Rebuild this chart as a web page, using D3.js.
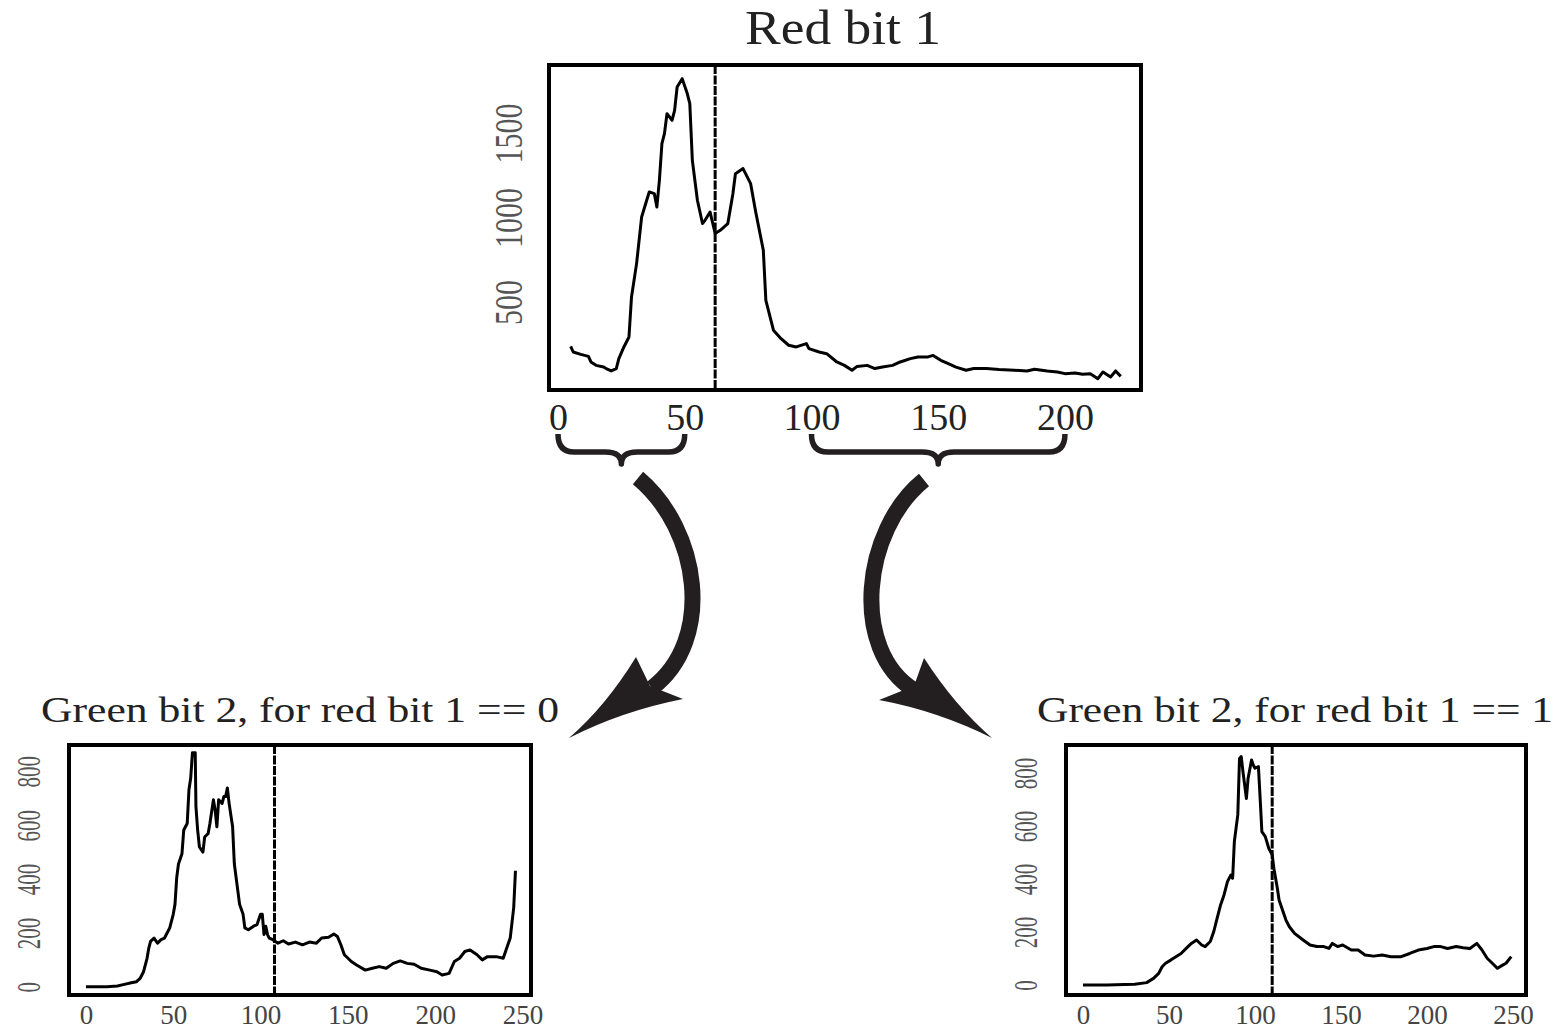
<!DOCTYPE html>
<html>
<head>
<meta charset="utf-8">
<script src="https://cdn.jsdelivr.net/npm/d3@7/dist/d3.min.js"></script>
<style>
    body { margin: 0; background: #fff; }
    text { font-family: "Liberation Serif", "Times New Roman", serif; }
</style>
</head>
<body>
<svg id="chart" width="1558" height="1031"></svg>
<script>
// Red bit 1 histogram
const redBins = [5, 6, 9, 12, 13, 15, 18, 19, 21, 23, 24, 26, 28, 29, 31, 33, 35, 36, 38, 39, 40, 41, 42, 43, 45, 46, 47, 49, 51, 52, 53, 55, 57, 58, 60, 62, 64, 67, 69, 70, 73, 76, 78, 81, 82, 85, 88, 91, 94, 98, 99, 103, 106, 110, 113, 116, 118, 122, 125, 128, 132, 135, 139, 142, 146, 148, 151, 154, 157, 161, 164, 169, 174, 180, 185, 188, 193, 197, 200, 204, 207, 210, 213, 215, 218, 220, 222];
const redCounts = [238, 204, 190, 178, 145, 125, 115, 106, 92, 106, 165, 234, 293, 530, 727, 1003, 1102, 1151, 1141, 1062, 1220, 1437, 1496, 1614, 1575, 1634, 1772, 1821, 1733, 1673, 1338, 1102, 964, 983, 1032, 905, 924, 964, 1141, 1259, 1289, 1200, 1032, 806, 510, 333, 283, 244, 234, 254, 224, 204, 194, 145, 125, 96, 119, 125, 106, 115, 125, 145, 165, 175, 175, 184, 155, 135, 115, 96, 106, 106, 100, 96, 92, 102, 92, 86, 76, 80, 72, 76, 46, 86, 56, 92, 60];

// Green bit 2 where red bit 1 == 0
const green0Bins = [0, 12, 18, 22, 26, 29, 31, 33, 35, 36, 37, 39, 41, 43, 45, 47, 48, 50, 51, 52, 53, 55, 56, 57, 58, 59, 60, 61, 62.6, 63, 64, 65, 67, 68, 70, 71, 73, 74, 75, 76, 78, 79, 80, 81, 82, 84, 85, 87, 88, 90, 91, 93, 96, 98, 100, 101, 102, 103, 104, 105, 107, 110, 113, 116, 120, 124, 128, 132, 135, 139, 142, 144, 146, 148, 152, 155, 160, 164, 168, 172, 176, 180, 184, 188, 192, 197, 201, 204, 208, 211, 214, 217, 220, 224, 227, 230, 235, 239, 241, 243, 245, 246];
const green0Counts = [0, 0, 3, 9, 15, 19, 31, 56, 106, 144, 169, 181, 162, 175, 181, 206, 219, 269, 306, 406, 456, 494, 581, 594, 606, 731, 775, 869, 869, 669, 581, 519, 500, 556, 569, 606, 694, 656, 594, 694, 681, 706, 706, 738, 681, 594, 456, 356, 306, 269, 219, 212, 225, 231, 269, 269, 194, 225, 194, 181, 175, 162, 171, 159, 166, 156, 166, 162, 181, 184, 196, 187, 156, 119, 94, 81, 62, 69, 75, 69, 87, 96, 87, 84, 69, 62, 56, 44, 50, 94, 106, 131, 137, 119, 100, 112, 112, 106, 144, 181, 294, 431];

// Green bit 2 where red bit 1 == 1
const green1Bins = [0, 14, 24, 30, 37, 41, 44, 46, 48, 51, 54, 57, 60, 63, 66, 69, 71, 74, 76, 78, 80, 82, 84, 86, 87, 88, 90, 91, 92, 93, 95, 96, 98, 99, 100, 102, 103, 104, 106, 108, 110, 111, 113, 114, 116, 118, 120, 123, 128, 132, 136, 140, 143, 145, 148, 151, 156, 160, 164, 169, 174, 179, 185, 190, 195, 200, 204, 208, 212, 217, 221, 225, 229, 232, 235, 238, 241, 244, 246, 249];
const green1Counts = [0, 0, 2, 3, 9, 25, 44, 69, 82, 94, 107, 119, 138, 157, 170, 151, 145, 164, 201, 252, 302, 340, 390, 415, 403, 541, 642, 855, 862, 805, 704, 780, 849, 830, 818, 824, 704, 579, 560, 516, 491, 440, 365, 321, 283, 245, 220, 195, 170, 151, 145, 145, 138, 157, 145, 151, 132, 132, 113, 109, 113, 107, 107, 119, 132, 138, 145, 145, 138, 145, 141, 138, 157, 132, 101, 82, 63, 75, 82, 107];

const redTicksX = [0, 50, 100, 150, 200];
const redTicksY = [500, 1000, 1500];
const greenTicksX = [0, 50, 100, 150, 200, 250];
const greenTicksY = [0, 200, 400, 600, 800];

const ink = "#231f20";
const svg = d3.select("#chart");

function panel(p) {
    const x = d3.scaleLinear().domain(p.xDomain).range([p.left, p.right]);
    const y = d3.scaleLinear().domain(p.yDomain).range([p.bottom, p.top]);
    const g = svg.append("g");
    const pts = p.bins.map((b, i) => ({bin: b, n: p.counts[i]}));

    const line = d3.line()
        .x(d => x(d.bin))
        .y(d => y(d.n));

    g.append("path")
        .datum(pts)
        .attr("fill", "none")
        .attr("stroke", "#000")
        .attr("stroke-width", 3)
        .attr("stroke-linejoin", "round")
        .attr("d", line);

    // split threshold
    g.append("line")
        .attr("x1", x(p.cut)).attr("x2", x(p.cut))
        .attr("y1", p.top).attr("y2", p.bottom)
        .attr("stroke", "#000")
        .attr("stroke-width", 3)
        .attr("stroke-dasharray", "9 1.5");

    g.append("rect")
        .attr("x", p.left).attr("y", p.top)
        .attr("width", p.right - p.left)
        .attr("height", p.bottom - p.top)
        .attr("fill", "none")
        .attr("stroke", "#000")
        .attr("stroke-width", 4);

    const ax = g.append("g")
        .attr("transform", "translate(0," + p.xLabelY + ")")
        .call(d3.axisBottom(x).tickValues(p.xTicks).tickSize(0).tickFormat(d3.format("d")));
    ax.select(".domain").remove();
    ax.attr("font-size", p.xFont);
    ax.selectAll("text")
        .attr("y", 0).attr("dy", 0)
        .attr("fill", p.xColor);

    const ay = g.append("g")
        .attr("transform", "translate(" + p.yLabelX + ",0)")
        .call(d3.axisLeft(y).tickValues(p.yTicks).tickSize(0).tickFormat(d3.format("d")));
    ay.select(".domain").remove();
    ay.attr("font-size", p.yFont);
    ay.selectAll("text")
        .attr("x", 0).attr("dy", 0)
        .attr("text-anchor", "middle")
        .attr("transform", "rotate(-90)")
        .attr("textLength", d => String(d).length * p.yDigit)
        .attr("lengthAdjust", "spacingAndGlyphs")
        .attr("fill", "#555");

    svg.append("text")
        .attr("x", p.titleX).attr("y", p.titleY)
        .attr("font-size", p.titleFont)
        .attr("textLength", p.titleLen)
        .attr("lengthAdjust", "spacingAndGlyphs")
        .attr("fill", "#222")
        .text(p.title);

    return x;
}

const xRed = panel({
    bins: redBins, counts: redCounts, cut: 62,
    left: 549, right: 1141, top: 65, bottom: 390,
    xDomain: [-3.55, 230], yDomain: [-20.7, 1902],
    xTicks: redTicksX, yTicks: redTicksY,
    xLabelY: 430, xFont: 38, xColor: "#222",
    yLabelX: 522, yFont: 40, yDigit: 15,
    title: "Red bit 1", titleX: 745, titleY: 44, titleFont: 48, titleLen: 196
});

panel({
    bins: green0Bins, counts: green0Counts, cut: 108,
    left: 69, right: 531, top: 745, bottom: 995,
    xDomain: [-9.7, 254.9], yDomain: [-30.4, 897.6],
    xTicks: greenTicksX, yTicks: greenTicksY,
    xLabelY: 1024, xFont: 27, xColor: "#444",
    yLabelX: 40, yFont: 34, yDigit: 10.5,
    title: "Green bit 2, for red bit 1 == 0", titleX: 41, titleY: 722, titleFont: 36, titleLen: 518
});

panel({
    bins: green1Bins, counts: green1Counts, cut: 110,
    left: 1066, right: 1526, top: 745, bottom: 995,
    xDomain: [-9.9, 257.6], yDomain: [-37.7, 905.7],
    xTicks: greenTicksX, yTicks: greenTicksY,
    xLabelY: 1024, xFont: 27, xColor: "#444",
    yLabelX: 1037, yFont: 34, yDigit: 10.5,
    title: "Green bit 2, for red bit 1 == 1", titleX: 1037, titleY: 722, titleFont: 36, titleLen: 516
});

// curly braces under the red axis ranges
function brace(a, b) {
    const x0 = xRed(a), x1 = xRed(b), xm = (x0 + x1) / 2;
    const y0 = 434, ym = 452, yt = 464, r = 16;
    const p = d3.path();
    p.moveTo(x0, y0);
    p.quadraticCurveTo(x0, ym, x0 + r, ym);
    p.lineTo(xm - r, ym);
    p.quadraticCurveTo(xm, ym, xm, yt);
    p.quadraticCurveTo(xm, ym, xm + r, ym);
    p.lineTo(x1 - r, ym);
    p.quadraticCurveTo(x1, ym, x1, y0);
    svg.append("path")
        .attr("d", p.toString())
        .attr("fill", "none")
        .attr("stroke", ink)
        .attr("stroke-width", 5.5)
        .attr("stroke-linejoin", "round");
    return xm;
}
brace(0, 50);
brace(100, 200);

// curved arrows down to the two sub-histograms
const arrows = [
    {shaft: [[638, 478], [700, 530], [715, 640], [652, 688]],
     tip: [569, 738], barbA: [636, 657], barbB: [683, 699], notch: [650, 686],
     ctrlA: [606, 706], ctrlB: [622, 711]},
    {shaft: [[924, 480], [862, 530], [850, 650], [914, 690]],
     tip: [992, 738], barbA: [924, 658], barbB: [879, 700], notch: [914, 686],
     ctrlA: [955, 706], ctrlB: [938, 711]}
];

arrows.forEach(a => {
    const s = d3.path();
    s.moveTo(...a.shaft[0]);
    s.bezierCurveTo(...a.shaft[1], ...a.shaft[2], ...a.shaft[3]);
    svg.append("path")
        .attr("d", s.toString())
        .attr("fill", "none")
        .attr("stroke", ink)
        .attr("stroke-width", 16);

    const h = d3.path();
    h.moveTo(...a.tip);
    h.quadraticCurveTo(...a.ctrlA, ...a.barbA);
    h.lineTo(...a.notch);
    h.lineTo(...a.barbB);
    h.quadraticCurveTo(...a.ctrlB, ...a.tip);
    h.closePath();
    svg.append("path")
        .attr("d", h.toString())
        .attr("fill", ink);
});
</script>
</body>
</html>
